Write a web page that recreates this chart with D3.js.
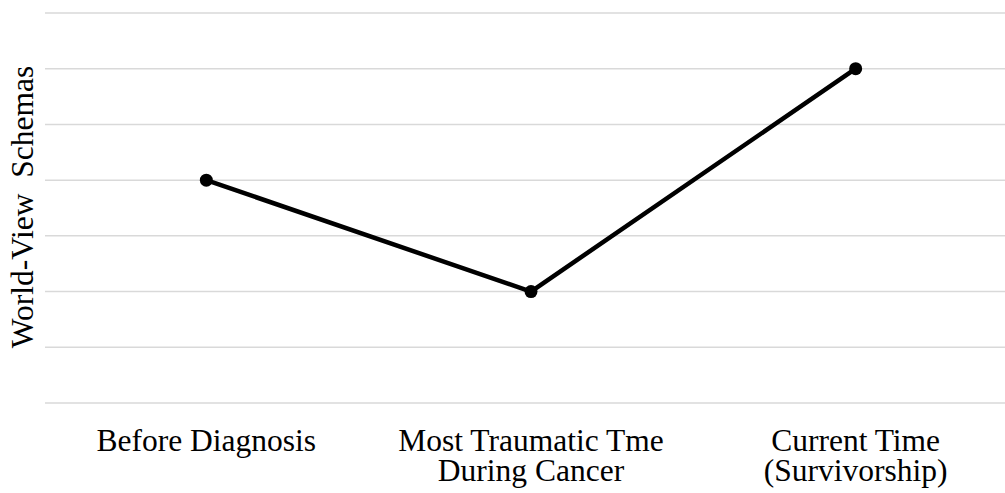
<!DOCTYPE html>
<html><head><meta charset="utf-8">
<script src="https://cdn.jsdelivr.net/npm/d3@7"></script>
<style>html,body{margin:0;padding:0;background:#fff;overflow:hidden}</style>
</head><body>
<svg id="chart" width="1005" height="493"></svg>
<script>
const categories = ["Before Diagnosis", "Most Traumatic Tme\nDuring Cancer", "Current Time\n(Survivorship)"];
const values = [4, 2, 6];
const yTicks = [0, 1, 2, 3, 4, 5, 6, 7];
const yLabel = "World-View  Schemas";

const svg = d3.select("#chart");
const font = "'Liberation Serif', 'Times New Roman', serif";

const x = d3.scaleBand().domain(categories).range([44, 1018]);
const y = d3.scaleLinear().domain([0, 7]).range([403, 13]);

// gridlines
svg.append("g").selectAll("line").data(yTicks).join("line")
  .attr("x1", 45).attr("x2", 1005)
  .attr("y1", d => y(d)).attr("y2", d => y(d))
  .attr("stroke", "#d9d9d9").attr("stroke-width", 1.5);

// x labels
const xl = svg.append("g").selectAll("text").data(categories).join("text")
  .attr("x", d => x(d) + x.bandwidth() / 2)
  .attr("y", 451)
  .attr("text-anchor", "middle")
  .attr("font-family", font).attr("font-size", 31.5).attr("fill", "#000");
xl.each(function(d) {
  const lines = d.split("\n");
  d3.select(this).selectAll("tspan").data(lines).join("tspan")
    .attr("x", x(d) + x.bandwidth() / 2)
    .attr("dy", (l, i) => i === 0 ? 0 : 30)
    .text(l => l);
});

// y label
svg.append("text")
  .attr("transform", "translate(33,207) rotate(-90)")
  .attr("text-anchor", "middle")
  .attr("font-family", font).attr("font-size", 31.5).attr("fill", "#000")
  .style("white-space", "pre")
  .text(yLabel);

// line
const line = d3.line()
  .x((d, i) => x(categories[i]) + x.bandwidth() / 2)
  .y(d => y(d));
svg.append("path").datum(values)
  .attr("d", line)
  .attr("fill", "none").attr("stroke", "#000").attr("stroke-width", 4.5)
  .attr("stroke-linejoin", "round");

svg.append("g").selectAll("circle").data(values).join("circle")
  .attr("cx", (d, i) => x(categories[i]) + x.bandwidth() / 2)
  .attr("cy", d => y(d))
  .attr("r", 6.5).attr("fill", "#000");
</script>
</body></html>
